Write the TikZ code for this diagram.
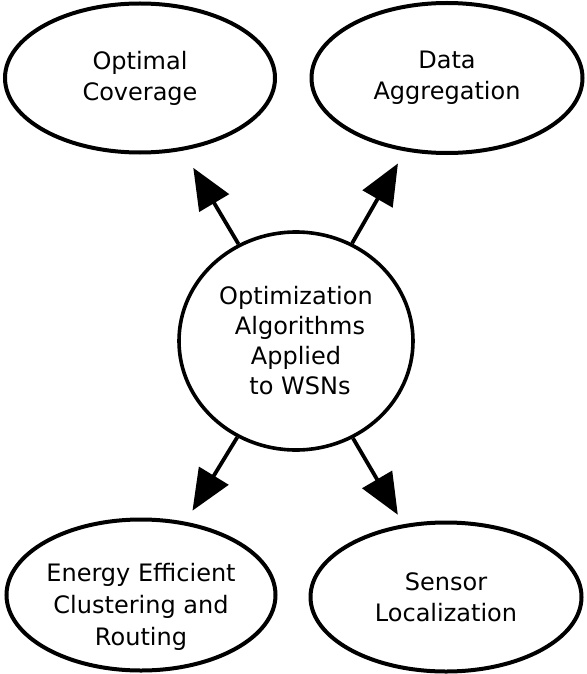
\documentclass[tikz,border=0pt]{standalone}
\usepackage{fontspec}
\setmainfont{DejaVu Sans}
\usetikzlibrary{shapes.geometric,arrows.meta}
\begin{document}
\begin{tikzpicture}[x=1pt,y=-1pt,
  topic/.style={ellipse,draw=black,line width=4pt,inner sep=0pt,align=center,
    font=\fontsize{24}{31}\selectfont},
  hub/.style={ellipse,draw=black,line width=3.6pt,inner sep=0pt,align=center,
    font=\fontsize{24}{30}\selectfont},
  link/.style={line width=3.8pt,-{Triangle[length=41pt,width=34pt]}}]
\useasboundingbox (0,0) rectangle (586,674);
\fill[white] (0,0) rectangle (586,674);
\node[topic,minimum width=270pt,minimum height=149pt] (tl) at (140,78) {Optimal\\Coverage};
\node[topic,minimum width=271pt,minimum height=150pt] (tr) at (447,78) {Data\\Aggregation};
\node[topic,minimum width=269pt,minimum height=151pt,
  label={[align=center,font=\fontsize{24}{32}\selectfont,yshift=-12pt]center:Energy Efficient\\Clustering and\\Routing}] (bl) at (141,595) {};
\node[topic,minimum width=271pt,minimum height=149pt] (br) at (446,597) {Sensor\\Localization};
\node[hub,minimum width=234pt,minimum height=218pt] (c) at (296,341)
  {Optimization\\\hspace*{8pt}Algorithms\\Applied\\\hspace*{8pt}to WSNs};
\draw[link,shorten >=20pt] (c) -- (tl);
\draw[link,shorten >=14pt] (c) -- (tr);
\draw[link,shorten >=13pt] (c) -- (bl);
\draw[link,shorten >=11pt] (c) -- (br);
\end{tikzpicture}
\end{document}
